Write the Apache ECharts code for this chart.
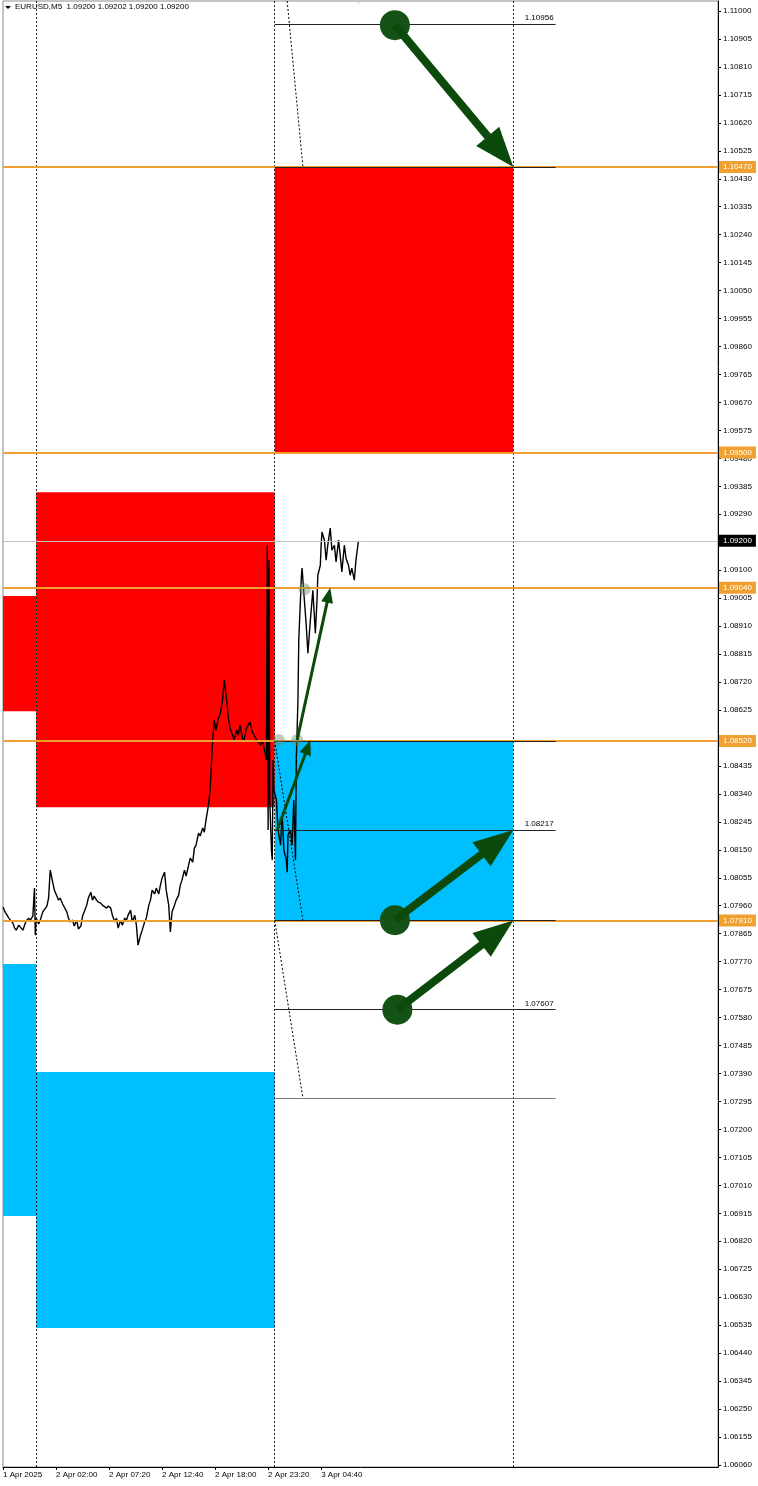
<!DOCTYPE html>
<html><head><meta charset="utf-8">
<script src="https://cdn.jsdelivr.net/npm/echarts@6/dist/echarts.min.js"></script>
<style>html,body{margin:0;padding:0;background:#fff}#c{width:758px;height:1486px}</style>
</head><body><div id="c"></div>
<script>
// ---------- DATA ----------
// x values are M5 bar numbers counted from 1 Apr 2025 20:40
const chartTitle = 'EURUSD,M5  1.09200 1.09202 1.09200 1.09200';
const timeTickBars = [0, 64, 128, 192, 256, 320, 384];
const timeTickLabels = ['1 Apr 2025', '2 Apr 02:00', '2 Apr 07:20', '2 Apr 12:40', '2 Apr 18:00', '2 Apr 23:20', '3 Apr 04:40'];
const priceTicks = [1.06060,1.06155,1.06250,1.06345,1.06440,1.06535,1.06630,1.06725,1.06820,1.06915,
  1.07010,1.07105,1.07200,1.07295,1.07390,1.07485,1.07580,1.07675,1.07770,1.07865,
  1.07960,1.08055,1.08150,1.08245,1.08340,1.08435,1.08530,1.08625,1.08720,1.08815,
  1.08910,1.09005,1.09100,1.09195,1.09290,1.09385,1.09480,1.09575,1.09670,1.09765,
  1.09860,1.09955,1.10050,1.10145,1.10240,1.10335,1.10430,1.10525,1.10620,1.10715,
  1.10810,1.10905,1.11000];
const daySeparatorBars = [40, 328, 616];
// [barFrom, barTo, priceLow, priceHigh]
const supplyZones = [[328, 616, 1.09500, 1.10470], [40, 328, 1.08295, 1.09365], [0, 40, 1.08621, 1.09012]];
const demandZones = [[328, 616, 1.07910, 1.08520], [0, 40, 1.06906, 1.07762], [40, 328, 1.06525, 1.07395]];
const keyLevels = [1.10470, 1.09500, 1.09040, 1.08520, 1.07910];
const lastPrice = 1.09200;
const targetRange = [328, 667];
const targetLevels = [1.10956, 1.10470, 1.08520, 1.08217, 1.07910, 1.07607, 1.07306];
const labeledTargets = [1.10956, 1.08217, 1.07607];
const projectionLines = [[343, 1.11034, 362, 1.10470], [328, 1.08520, 362, 1.07910], [328, 1.07910, 362, 1.07306]];
const bigArrows = [[473, 1.10952, 616, 1.10470], [473, 1.07911, 616, 1.08217], [476, 1.07607, 616, 1.07910]];
const smallArrows = [[331, 1.08217, 371, 1.08523], [355, 1.08523, 395, 1.09040]];
const touchPoints = [[333, 1.08523], [355, 1.08523], [364, 1.09035]];
const shiftMarker = [[429, 1.11034]];
const priceLine = [
 [0,1.07956],[2,1.07942],[4,1.07932],[7,1.07918],[9,1.07911],[12,1.07901],[14,1.07884],[16,1.07877],[19,1.07894],[21,1.07891],
 [24,1.07877],[26,1.07894],[28,1.07908],[31,1.07918],[33,1.07911],[36,1.07925],[37,1.07922],[38,1.08020],[39,1.07860],[40,1.07918],
 [43,1.07898],[45,1.07911],[48,1.07939],[50,1.07945],[53,1.07959],[55,1.07986],[57,1.08081],[60,1.08040],[62,1.08013],[65,1.07993],
 [67,1.07979],[69,1.07986],[72,1.07966],[74,1.07962],[77,1.07939],[79,1.07918],[81,1.07905],[84,1.07911],[86,1.07891],[89,1.07911],
 [91,1.07881],[94,1.07891],[96,1.07925],[98,1.07939],[101,1.07962],[103,1.07986],[106,1.08006],[108,1.07979],[110,1.07993],[113,1.07979],
 [115,1.07972],[118,1.07969],[120,1.07962],[122,1.07966],[125,1.07952],[127,1.07959],[130,1.07952],[132,1.07928],[135,1.07905],[137,1.07918],
 [139,1.07884],[142,1.07911],[144,1.07894],[147,1.07918],[149,1.07911],[151,1.07928],[154,1.07945],[156,1.07905],[159,1.07928],[161,1.07894],
 [163,1.07826],[166,1.07860],[168,1.07877],[171,1.07905],[173,1.07918],[176,1.07962],[178,1.07979],[180,1.08013],[183,1.08000],[185,1.08020],
 [188,1.08000],[190,1.08030],[192,1.08054],[195,1.08074],[197,1.08013],[200,1.07962],[202,1.07871],[204,1.07939],[207,1.07962],[209,1.07979],
 [212,1.07996],[214,1.08030],[216,1.08047],[219,1.08081],[221,1.08061],[224,1.08098],[226,1.08122],[229,1.08108],[231,1.08156],[233,1.08166],
 [236,1.08207],[238,1.08197],[241,1.08224],[243,1.08210],[245,1.08251],[248,1.08302],[250,1.08353],[253,1.08523],[255,1.08591],[257,1.08557],
 [260,1.08598],[262,1.08608],[265,1.08659],[267,1.08727],[270,1.08659],[272,1.08598],[274,1.08564],[277,1.08540],[279,1.08523],[282,1.08557],
 [284,1.08540],[286,1.08574],[289,1.08530],[291,1.08523],[294,1.08564],[296,1.08574],[298,1.08584],[301,1.08550],[303,1.08540],[306,1.08523],
 [308,1.08516],[311,1.08506],[313,1.08523],[315,1.08496],[318,1.08455],[319,1.09185],[320,1.08217],[321,1.09134],[322,1.08319],[324,1.08149],
 [325,1.08115],[326,1.08455],[327,1.08353],[330,1.08319],[332,1.08217],[335,1.08166],[337,1.08268],[339,1.08149],[342,1.08115],[343,1.08074],
 [344,1.08200],[347,1.08217],[349,1.08166],[351,1.08319],[353,1.08115],[354,1.08455],[356,1.08659],[357,1.08863],[359,1.08998],[360,1.09073],
 [361,1.09107],[363,1.09026],[366,1.08914],[368,1.08818],[371,1.08930],[373,1.08998],[374,1.09032],[377,1.08886],[379,1.08998],[380,1.09083],
 [383,1.09117],[384,1.09185],[385,1.09230],[388,1.09202],[390,1.09134],[392,1.09185],[395,1.09243],[397,1.09168],[400,1.09185],[402,1.09128],
 [405,1.09202],[407,1.09151],[409,1.09094],[412,1.09185],[414,1.09141],[417,1.09117],[419,1.09083],[421,1.09107],[424,1.09066],[426,1.09134],
 [429,1.09200]
];

// ---------- STYLE ----------
const FONT = 'Liberation Sans';
const ORANGE = '#F0A030';
const GREEN = '#0C4A0C';

function fmt(v) { return Number(v).toFixed(5); }

function rectRenderer(color) {
  return function (params, api) {
    const a = api.coord([api.value(0), api.value(3)]);
    const b = api.coord([api.value(1), api.value(2)]);
    return { type: 'rect', shape: { x: a[0], y: a[1], width: b[0] - a[0], height: b[1] - a[1] }, style: { fill: color } };
  };
}

function arrowRenderer(w, headLen, headHalf, r, circleColor) {
  return function (params, api) {
    const p1 = api.coord([api.value(0), api.value(1)]);
    const p2 = api.coord([api.value(2), api.value(3)]);
    const dx = p2[0] - p1[0], dy = p2[1] - p1[1];
    const L = Math.sqrt(dx * dx + dy * dy);
    const ux = dx / L, uy = dy / L, nx = -uy, ny = ux;
    const bx = p2[0] - ux * headLen, by = p2[1] - uy * headLen;
    const children = [];
    if (r > 0) children.push({ type: 'circle', shape: { cx: p1[0], cy: p1[1], r: r }, style: { fill: circleColor } });
    children.push({ type: 'line', shape: { x1: p1[0], y1: p1[1], x2: bx + ux * 2, y2: by + uy * 2 }, style: { stroke: GREEN, lineWidth: w } });
    children.push({ type: 'polygon', shape: { points: [[p2[0], p2[1]], [bx + nx * headHalf, by + ny * headHalf], [bx - nx * headHalf, by - ny * headHalf]] }, style: { fill: GREEN } });
    return { type: 'group', children: children };
  };
}

const chart = echarts.init(document.getElementById('c'), null, { renderer: 'canvas' });

const keyLevelMarks = keyLevels.map(v => ({
  yAxis: v,
  lineStyle: { color: ORANGE, width: 2, type: 'solid' },
  label: { show: true, position: 'end', distance: 1, formatter: fmt(v), color: '#fff', backgroundColor: ORANGE, padding: [2, 4, 2, 4], fontSize: 8, fontFamily: FONT }
}));
keyLevelMarks.push({
  yAxis: lastPrice,
  lineStyle: { color: '#C0C0C0', width: 1, type: 'solid' },
  label: { show: true, position: 'end', distance: 1, formatter: fmt(lastPrice), color: '#fff', backgroundColor: '#000', padding: [2, 4, 2, 4], fontSize: 8, fontFamily: FONT }
});

const targetMarks = targetLevels.map(v => [
  { coord: [targetRange[0], v], lineStyle: { color: v === 1.07306 ? '#777' : '#222', width: 1, type: 'solid' },
    label: { show: labeledTargets.indexOf(v) >= 0, position: 'insideEndTop', distance: 2, formatter: fmt(v), color: '#000', fontSize: 8, fontFamily: FONT } },
  { coord: [targetRange[1], v] }
]);

const projectionMarks = projectionLines.map(l => [{ coord: [l[0], l[1]] }, { coord: [l[2], l[3]] }]);

chart.setOption({
  animation: false,
  backgroundColor: '#fff',
  grid: { left: 2, right: 40, top: 1, bottom: 19, show: true, borderColor: '#8a8a8a', borderWidth: 1, containLabel: false },
  xAxis: {
    type: 'value', min: 0, max: 863, position: 'bottom',
    axisLine: { show: true, onZero: false, lineStyle: { color: '#000', width: 1 } },
    axisTick: { show: true, customValues: timeTickBars, length: 3, lineStyle: { color: '#000' } },
    axisLabel: { show: true, customValues: timeTickBars, showMinLabel: true, align: 'left', margin: 4, fontSize: 8, fontFamily: FONT, color: '#000',
      formatter: v => { const i = timeTickBars.indexOf(Math.round(v)); return i >= 0 ? timeTickLabels[i] : ''; } },
    splitLine: { show: false }
  },
  yAxis: {
    type: 'value', min: 1.06053, max: 1.11034, position: 'right', scale: true,
    axisLine: { show: true, onZero: false, lineStyle: { color: '#000', width: 1 } },
    axisTick: { show: true, customValues: priceTicks, length: 3, lineStyle: { color: '#000' } },
    axisLabel: { show: true, customValues: priceTicks, margin: 5, fontSize: 8, fontFamily: FONT, color: '#000', formatter: v => fmt(v) },
    splitLine: { show: false }
  },
  graphic: [
    { type: 'polygon', shape: { points: [[5, 6], [11, 6], [8, 9]] }, style: { fill: '#000' }, z: 100 },
    { type: 'text', left: 15, top: 3, style: { text: chartTitle, font: '8px ' + FONT, fill: '#000' }, z: 100 }
  ],
  series: [
    { type: 'custom', name: 'supply', data: supplyZones, renderItem: rectRenderer('#FF0000'), encode: { x: [0, 1], y: [2, 3] }, z: 1, silent: true },
    { type: 'custom', name: 'demand', data: demandZones, renderItem: rectRenderer('#00BFFF'), encode: { x: [0, 1], y: [2, 3] }, z: 1, silent: true },
    { type: 'line', name: 'separators', data: [], z: 2, silent: true,
      markLine: { silent: true, precision: 5, symbol: ['none', 'none'], label: { show: false },
        lineStyle: { color: '#222', width: 1, type: [2, 2] },
        data: daySeparatorBars.map(b => ({ xAxis: b })) } },
    { type: 'line', name: 'EURUSD', data: priceLine, showSymbol: false, symbol: 'none', z: 3, silent: true,
      lineStyle: { color: '#000', width: 1.4 } },
    { type: 'line', name: 'levels', data: [], z: 4, silent: true,
      markLine: { silent: true, precision: 5, symbol: ['none', 'none'], data: keyLevelMarks } },
    { type: 'line', name: 'targets', data: [], z: 5, silent: true,
      markLine: { silent: true, precision: 5, symbol: ['none', 'none'], data: targetMarks } },
    { type: 'line', name: 'projections', data: [], z: 5, silent: true,
      markLine: { silent: true, precision: 5, symbol: ['none', 'none'], label: { show: false },
        lineStyle: { color: '#000', width: 1, type: [2, 2] }, data: projectionMarks } },
    { type: 'scatter', name: 'touches', data: touchPoints, symbolSize: 12, z: 6, silent: true,
      itemStyle: { color: 'rgba(105,140,105,0.55)' } },
    { type: 'custom', name: 'smallArrows', data: smallArrows, renderItem: arrowRenderer(3, 15, 6, 0, GREEN), encode: { x: [0, 2], y: [1, 3] }, z: 7, silent: true },
    { type: 'custom', name: 'bigArrows', data: bigArrows, renderItem: arrowRenderer(8, 40, 15, 15, '#155215'), encode: { x: [0, 2], y: [1, 3] }, z: 7, silent: true },
    { type: 'scatter', name: 'shift', data: shiftMarker, symbol: 'triangle', symbolRotate: 180, symbolSize: [9, 6], clip: false, z: 8, silent: true,
      itemStyle: { color: '#C8C8C8' } }
  ]
});
</script>
</body></html>
